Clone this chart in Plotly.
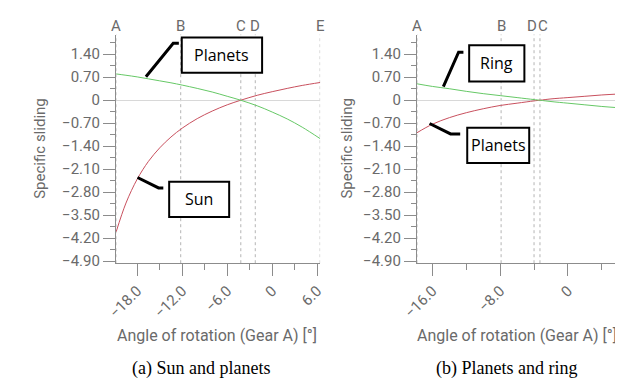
import plotly.graph_objects as go

# ---------------- data ----------------
# (a) Sun and planets
a_angle = [-20.8, -19.5, -18.0, -16.5, -15.0, -13.5, -12.0, -10.0, -8.0, -6.0, -4.2, -2.0, 0.0, 2.0, 4.0, 6.4]
a_sun = [-4.00, -3.13, -2.40, -1.86, -1.45, -1.12, -0.85, -0.56, -0.33, -0.14, 0.00, 0.15, 0.26, 0.36, 0.45, 0.54]
a_planets = [0.80, 0.76, 0.71, 0.65, 0.59, 0.53, 0.46, 0.36, 0.25, 0.12, 0.00, -0.17, -0.36, -0.57, -0.82, -1.17]
a_event_labels = ["A", "B", "C", "D", "E"]
a_event_x = [-20.84, -12.2, -4.19, -2.26, 6.39]
a_tickvals = [-18, -12, -6, 0, 6]
a_ticktext = ["\u221218.0", "\u221212.0", "\u22126.0", "0", "6.0"]

# (b) Planets and ring
b_angle = [-17.83, -16.0, -14.0, -12.0, -10.0, -8.0, -6.0, -4.0, -3.3, -2.0, 0.0, 2.0, 4.0, 6.06]
b_planets = [-0.99, -0.73, -0.53, -0.38, -0.26, -0.16, -0.09, -0.02, 0.00, 0.04, 0.08, 0.12, 0.16, 0.19]
b_ring = [0.50, 0.42, 0.35, 0.27, 0.20, 0.14, 0.08, 0.02, 0.00, -0.04, -0.09, -0.14, -0.19, -0.23]
b_event_labels = ["A", "B", "D", "C", "E"]
b_event_x = [-17.83, -7.89, -4.0, -3.3, 6.06]
b_tickvals = [-16, -8, 0]
b_ticktext = ["\u221216.0", "\u22128.0", "0"]

y_tickvals = [1.4, 0.7, 0, -0.7, -1.4, -2.1, -2.8, -3.5, -4.2, -4.9]
y_ticktext = ["1.40", "0.70", "0", "\u22120.70", "\u22121.40", "\u22122.10", "\u22122.80", "\u22123.50", "\u22124.20", "\u22124.90"]

# ---------------- styling ----------------
W, H = 623, 380
RED = "#c8505e"
GREEN = "#66c866"
AXIS = "#8c8c8c"
TXT = "#6a6a6a"
TICKFONT = dict(family="Roboto", size=15, color=TXT)

fig = go.Figure()
fig.add_trace(go.Scatter(x=a_angle, y=a_sun, mode="lines", line=dict(color=RED, width=1, shape="spline"),
                         xaxis="x", yaxis="y", showlegend=False))
fig.add_trace(go.Scatter(x=a_angle, y=a_planets, mode="lines", line=dict(color=GREEN, width=1, shape="spline"),
                         xaxis="x", yaxis="y", showlegend=False))
fig.add_trace(go.Scatter(x=b_angle, y=b_planets, mode="lines", line=dict(color=RED, width=1, shape="spline"),
                         xaxis="x2", yaxis="y2", showlegend=False))
fig.add_trace(go.Scatter(x=b_angle, y=b_ring, mode="lines", line=dict(color=GREEN, width=1, shape="spline"),
                         xaxis="x2", yaxis="y2", showlegend=False))

ydom = [1 - 260 / H, 1 - 27 / H]
yrange = [-4.96, 2.0]


def xaxis_cfg(dom, rng, tv, tt, minor_dtick):
    return dict(domain=dom, range=rng, tickmode="array", tickvals=tv, ticktext=tt, tickangle=-45,
                showline=True, linecolor=AXIS, linewidth=1, ticks="outside", ticklen=12, tickcolor=AXIS,
                showgrid=False, zeroline=False, tickfont=TICKFONT,
                minor=dict(dtick=minor_dtick, tick0=0, ticks="outside", ticklen=6, tickcolor=AXIS, showgrid=False))


def yaxis_cfg(anchor):
    return dict(domain=ydom, range=yrange, anchor=anchor, tickmode="array", tickvals=y_tickvals, ticktext=y_ticktext,
                showline=True, linecolor=AXIS, linewidth=1, ticks="outside", ticklen=12, tickcolor=AXIS,
                showgrid=False, zeroline=True, zerolinecolor="#d8d8d8", zerolinewidth=1, tickfont=TICKFONT,
                minor=dict(dtick=0.35, tick0=0, ticks="outside", ticklen=5, tickcolor=AXIS, showgrid=False))


fig.update_layout(
    width=W, height=H, margin=dict(l=0, r=0, t=0, b=0),
    paper_bgcolor="white", plot_bgcolor="white",
    xaxis=xaxis_cfg([96 / W, 307 / W], [a_event_x[0], a_event_x[-1]], a_tickvals, a_ticktext, 3),
    yaxis=yaxis_cfg("x"),
    xaxis2=xaxis_cfg([407 / W, 616 / W], [b_event_x[0], b_event_x[-1]], b_tickvals, b_ticktext, 4),
    yaxis2=yaxis_cfg("x2"),
)
fig.layout.xaxis.anchor = "y"
fig.layout.xaxis2.anchor = "y2"

shapes = []
annotations = []

# event lines + letters
for xr, labels, xs in (("x", a_event_labels, a_event_x), ("x2", b_event_labels, b_event_x)):
    yr = "y" if xr == "x" else "y2"
    for i, (lab, xv) in enumerate(zip(labels, xs)):
        shapes.append(dict(type="line", xref=xr, yref=yr + " domain", x0=xv, x1=xv, y0=0, y1=1,
                           line=dict(color="#b4b4b4", width=1, dash="dot"), layer="below"))
        anchor = "center"
        if xr == "x2" and lab == "D":
            anchor = "right"
        elif xr == "x2" and lab == "C":
            anchor = "left"
        annotations.append(dict(xref=xr, yref="paper", x=xv, y=1 - 18 / H, text=lab, showarrow=False,
                                font=dict(family="Roboto", size=15, color=TXT), xanchor=anchor, yanchor="middle",
                                borderpad=0, xshift=(4 if anchor == "right" else (-3 if anchor == "left" else 0))))

# callout boxes and leader lines (data coords of each panel)
callouts = [
    ("x", "y", "Planets", (-12.06, -1.35, 0.835, 1.91), [(-16.84, 0.716), (-13.2, 1.73), (-12.45, 1.73)]),
    ("x", "y", "Sun", (-13.74, -5.74, -3.556, -2.48), [(-17.96, -2.352), (-15.16, -2.669), (-14.52, -2.669)]),
    ("x2", "y2", "Ring", (-11.66, -5.14, 0.566, 1.671), [(-14.71, 0.417), (-12.91, 1.462), (-12.34, 1.462)]),
    ("x2", "y2", "Planets", (-11.89, -4.57, -1.913, -0.838), [(-16.34, -0.709), (-13.86, -1.026), (-12.72, -1.026)]),
]
for xr, yr, text, (bx0, bx1, by0, by1), pts in callouts:
    shapes.append(dict(type="rect", xref=xr, yref=yr, x0=bx0, x1=bx1, y0=by0, y1=by1,
                       line=dict(color="black", width=2), fillcolor="white", layer="above"))
    path = "M " + " L ".join(f"{px},{py}" for px, py in pts)
    shapes.append(dict(type="path", xref=xr, yref=yr, path=path, line=dict(color="black", width=3)))
    annotations.append(dict(xref=xr, yref=yr, x=(bx0 + bx1) / 2, y=(by0 + by1) / 2, text=text, showarrow=False,
                            font=dict(family="Open Sans", size=16, color="black"),
                            xanchor="center", yanchor="middle"))

# axis titles and captions
for cx in (18, 335):
    annotations.append(dict(xref="paper", yref="paper", x=cx / W, y=1 - 143 / H, text="Specific sliding",
                            textangle=-90, showarrow=False, font=dict(family="Roboto", size=15, color=TXT),
                            xanchor="center", yanchor="middle"))
for cx in (200, 510):
    annotations.append(dict(xref="paper", yref="paper", x=cx / W, y=1 - 334 / H,
                            text="Angle of rotation (Gear A) [°]", showarrow=False,
                            font=dict(family="Roboto", size=16, color=TXT), xanchor="center", yanchor="middle"))
for cx, cap in ((184, "(a) Sun and planets"), (500, "(b) Planets and ring")):
    annotations.append(dict(xref="paper", yref="paper", x=cx / W, y=1 - 367 / H, text=cap, showarrow=False,
                            font=dict(family="Liberation Serif", size=18, color="black"),
                            xanchor="center", yanchor="middle"))

fig.update_layout(shapes=shapes, annotations=annotations)
fig.write_html("out.html")
